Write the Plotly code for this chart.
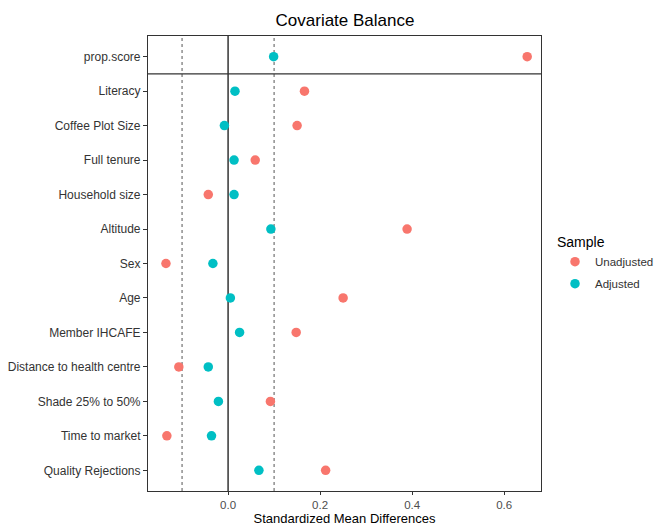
import plotly.graph_objects as go

covariates = ["prop.score", "Literacy", "Coffee Plot Size", "Full tenure", "Household size",
              "Altitude", "Sex", "Age", "Member IHCAFE", "Distance to health centre",
              "Shade 25% to 50%", "Time to market", "Quality Rejections"]
unadjusted = [0.650, 0.166, 0.150, 0.059, -0.043, 0.389, -0.135, 0.250, 0.148, -0.107, 0.092, -0.133, 0.212]
adjusted = [0.099, 0.015, -0.008, 0.013, 0.013, 0.093, -0.033, 0.005, 0.025, -0.043, -0.021, -0.036, 0.067]
x_ticks = [0.0, 0.2, 0.4, 0.6]
x_tick_labels = ["0.0", "0.2", "0.4", "0.6"]
threshold = 0.1

fig = go.Figure()
fig.add_trace(go.Scatter(x=unadjusted, y=covariates, mode="markers", name="Unadjusted",
                         legendgroup="u", marker=dict(color="#F8766D", size=9.5)))
fig.add_trace(go.Scatter(x=adjusted, y=covariates, mode="markers", name="Adjusted",
                         legendgroup="a", marker=dict(color="#00BFC4", size=9.5)))

for t in (-threshold, threshold):
    fig.add_shape(type="line", xref="x", yref="paper", x0=t, x1=t, y0=0, y1=1,
                  line=dict(color="#555555", width=1, dash="dot"), layer="below")
fig.add_shape(type="line", xref="x", yref="paper", x0=0, x1=0, y0=0, y1=1,
              line=dict(color="black", width=1.2), layer="below")
fig.add_shape(type="line", xref="paper", yref="y", x0=0, x1=1, y0=0.5, y1=0.5,
              line=dict(color="#333333", width=1.2), layer="below")

fig.update_layout(
    width=657, height=526,
    margin=dict(l=148, r=116, t=36, b=35),
    paper_bgcolor="white", plot_bgcolor="white",
    font=dict(family="Arial, Liberation Sans, sans-serif", color="#222222"),
    title=dict(text="Covariate Balance", x=345 / 657, xanchor="center", xref="container",
               y=1 - 20 / 526, yanchor="middle", font=dict(size=17, color="black")),
    xaxis=dict(range=[-0.174, 0.68], tickvals=x_ticks, ticktext=x_tick_labels,
               showgrid=False, zeroline=False, showline=True, mirror=True, automargin=False,
               linecolor="#333333", linewidth=1.2, ticks="outside", ticklen=3,
               tickcolor="#333333", tickfont=dict(size=11.5, color="#4D4D4D"),
               title=dict(text="Standardized Mean Differences", font=dict(size=13, color="black"),
                          standoff=7)),
    yaxis=dict(categoryorder="array", categoryarray=covariates, range=[12.6, -0.6],
               showgrid=False, zeroline=False, showline=True, mirror=True, automargin=False,
               linecolor="#333333", linewidth=1.2, ticks="outside", ticklen=4,
               tickcolor="#333333", tickfont=dict(size=12, color="#333333")),
    legend=dict(title=dict(text="Sample", font=dict(size=14, color="black")),
                xref="container", yref="container",
                x=555 / 657, xanchor="left", y=1 - 229 / 526, yanchor="top",
                font=dict(size=11.5, color="#333333"), tracegroupgap=3),
)

fig.write_html("out.html", config={"displayModeBar": False},
               post_script="document.body.style.margin='0';")
